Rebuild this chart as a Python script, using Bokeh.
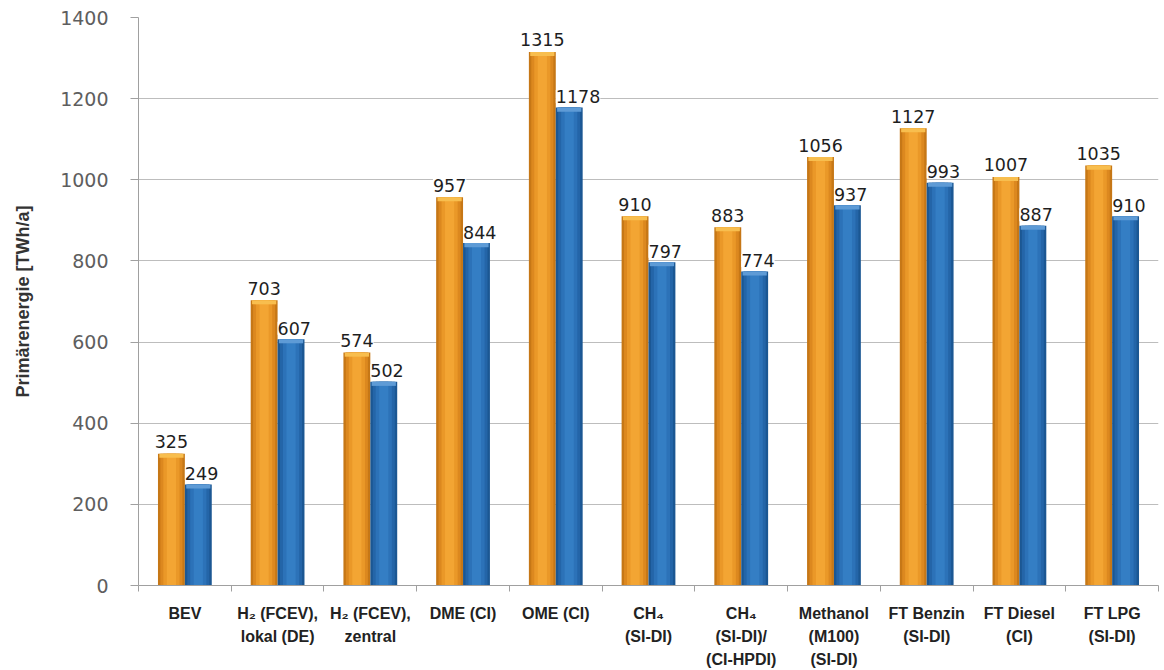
from bokeh.plotting import figure
from bokeh.models import FixedTicker, ColumnDataSource, Range1d
from bokeh.core.properties import value
from bokeh.embed import file_html
from bokeh.resources import INLINE
import numpy as np

# Fuel / drivetrain pathways
categories = [
    "BEV",
    "H\u2082 (FCEV),\nlokal (DE)",
    "H\u2082 (FCEV),\nzentral",
    "DME (CI)",
    "OME (CI)",
    "CH\u2084\n(SI-DI)",
    "CH\u2084\n(SI-DI)/\n(CI-HPDI)",
    "Methanol\n(M100)\n(SI-DI)",
    "FT Benzin\n(SI-DI)",
    "FT Diesel\n(CI)",
    "FT LPG\n(SI-DI)",
]
# Primary energy demand [TWh/a], two scenarios
series_orange = [325, 703, 574, 957, 1315, 910, 883, 1056, 1127, 1007, 1035]
series_blue = [249, 607, 502, 844, 1178, 797, 774, 937, 993, 887, 910]
y_ticks = [0, 200, 400, 600, 800, 1000, 1200, 1400]

n = len(categories)
centers = np.arange(n) + 0.5
bar_w = 0.29
x_orange = centers - bar_w / 2
x_blue = centers + bar_w / 2

p = figure(
    width=1164, height=670,
    x_range=Range1d(0, n), y_range=Range1d(0, 1400),
    output_backend="svg", toolbar_location=None,
    min_border_left=138, min_border_right=6,
    min_border_top=17, min_border_bottom=85,
)
p.outline_line_color = None
p.background_fill_color = "white"
p.border_fill_color = "white"

# grid
p.xgrid.grid_line_color = None
p.ygrid.grid_line_color = "#BDBDBD"
p.ygrid.grid_line_width = 1
p.ygrid.ticker = FixedTicker(ticks=y_ticks)

# y axis
p.yaxis.ticker = FixedTicker(ticks=y_ticks)
p.yaxis.axis_line_color = "#A0A0A0"
p.yaxis.major_tick_line_color = "#A0A0A0"
p.yaxis.major_tick_out = 8
p.yaxis.major_tick_in = 0
p.yaxis.minor_tick_line_color = None
p.yaxis.major_label_text_font = "DejaVu Sans"
p.yaxis.major_label_text_font_size = "19px"
p.yaxis.major_label_text_color = "#5E5E5E"
p.yaxis.major_label_standoff = 22
p.yaxis.axis_label = "Primärenergie [TWh/a]"
p.yaxis.axis_label_text_font = "Liberation Sans"
p.yaxis.axis_label_text_font_style = "bold"
p.yaxis.axis_label_text_font_size = "18px"
p.yaxis.axis_label_text_color = "#333333"
p.yaxis.axis_label_standoff = 24

# x axis: labels at category centres, small ticks at boundaries
p.xaxis.ticker = FixedTicker(ticks=list(centers), minor_ticks=list(range(n + 1)))
p.xaxis.major_label_overrides = {float(c): lab for c, lab in zip(centers, categories)}
p.xaxis.axis_line_color = "#A0A0A0"
p.xaxis.major_tick_line_color = None
p.xaxis.major_tick_out = 0
p.xaxis.major_tick_in = 0
p.xaxis.minor_tick_line_color = "#A0A0A0"
p.xaxis.minor_tick_out = 6
p.xaxis.minor_tick_in = 0
p.xaxis.major_label_text_font = "Liberation Sans"
p.xaxis.major_label_text_font_style = "bold"
p.xaxis.major_label_text_font_size = "16px"
p.xaxis.major_label_text_color = "#222222"
p.xaxis.major_label_text_line_height = 1.36
p.xaxis.major_label_standoff = 13

src = ColumnDataSource(dict(xo=x_orange, xb=x_blue, xc=centers,
                            vo=series_orange, vb=series_blue,
                            lo=[str(v) for v in series_orange],
                            lb=[str(v) for v in series_blue],
                            co=[v - 10 for v in series_orange],
                            cb=[v - 10 for v in series_blue]))

# bars shaded from darker edges to a lighter centre
orange_layers = [(1.0, "#C67716"), (0.82, "#DC881F"), (0.6, "#EA9828"), (0.34, "#F3A533")]
blue_layers = [(1.0, "#1B5793"), (0.82, "#2465A8"), (0.6, "#2C72B8"), (0.34, "#347EC4")]
for frac, col in orange_layers:
    p.vbar(x="xo", top="vo", bottom=0, width=bar_w * frac, source=src,
           fill_color=col, line_color=None)
for frac, col in blue_layers:
    p.vbar(x="xb", top="vb", bottom=0, width=bar_w * frac, source=src,
           fill_color=col, line_color=None)
# bevelled top edge
p.vbar(x="xo", top="vo", bottom="co", width=bar_w * 0.9, source=src,
       fill_color="#F8BE4E", line_color=None)
p.vbar(x="xb", top="vb", bottom="cb", width=bar_w * 0.9, source=src,
       fill_color="#5E9BD6", line_color=None)

# value labels
p.text(x="xo", y="vo", text="lo", source=src, text_align="center",
       text_baseline="alphabetic", y_offset=-12,
       text_font=value("DejaVu Sans"), text_font_size="17.5px", text_color="#1E1E1E",
       background_fill_color="white")
p.text(x="xc", y="vb", text="lb", source=src, text_align="left",
       text_baseline="alphabetic", y_offset=-11,
       text_font=value("DejaVu Sans"), text_font_size="17.5px", text_color="#1E1E1E",
       background_fill_color="white")

open("out.html", "w").write(file_html(p, INLINE))
